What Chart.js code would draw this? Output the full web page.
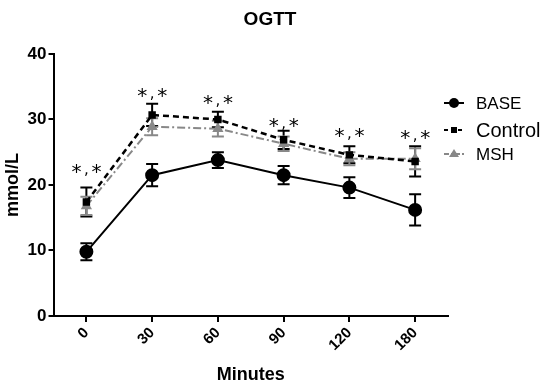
<html>
<head>
<meta charset="UTF-8">
<title>OGTT</title>
<script src="https://cdn.jsdelivr.net/npm/chart.js"></script>
<style>
  html, body { margin: 0; padding: 0; background: #fff; }
  #wrap { width: 550px; height: 388px; }
</style>
</head>
<body>
<div id="wrap"><canvas id="ogttChart" width="550" height="388"></canvas></div>
<script>
    // data
    const chartTitle = 'OGTT';
    const minutes = ['0', '30', '60', '90', '120', '180'];
    const baseMean = [9.8, 21.5, 23.8, 21.5, 19.6, 16.2];
    const baseErr = [1.3, 1.7, 1.2, 1.4, 1.6, 2.4];
    const controlMean = [17.4, 30.7, 30.0, 26.9, 24.6, 23.6];
    const controlErr = [2.2, 1.7, 1.2, 1.4, 1.3, 2.3];
    const mshMean = [16.8, 28.9, 28.6, 26.3, 24.0, 24.0];
    const mshErr = [1.4, 1.3, 1.2, 1.1, 1.0, 1.6];
    const starLevel = [22.4, 34.0, 33.0, 29.5, 28.0, 27.6];

    const errs = [baseErr, controlErr, mshErr];

    // error bars drawn through the y scale
    const errorBars = {
        id: 'errorBars',
        beforeDatasetsDraw(chart) {
            const ctx = chart.ctx;
            const y = chart.scales.y;
            chart.data.datasets.forEach((ds, i) => {
                const meta = chart.getDatasetMeta(i);
                ctx.save();
                ctx.strokeStyle = ds.borderColor;
                ctx.lineWidth = 2;
                meta.data.forEach((pt, j) => {
                    const top = y.getPixelForValue(ds.data[j] + errs[i][j]);
                    const bot = y.getPixelForValue(ds.data[j] - errs[i][j]);
                    ctx.beginPath();
                    ctx.moveTo(pt.x, top); ctx.lineTo(pt.x, bot);
                    ctx.moveTo(pt.x - 6, top); ctx.lineTo(pt.x + 6, top);
                    ctx.moveTo(pt.x - 6, bot); ctx.lineTo(pt.x + 6, bot);
                    ctx.stroke();
                });
                ctx.restore();
            });
        }
    };

    // title, significance marks and legend
    const extras = {
        id: 'extras',
        afterDraw(chart) {
            const ctx = chart.ctx;
            const x = chart.scales.x;
            const y = chart.scales.y;
            ctx.save();
            ctx.fillStyle = '#000';
            ctx.textAlign = 'center';
            ctx.textBaseline = 'middle';
            ctx.font = 'bold 19px "Liberation Sans"';
            ctx.fillText(chartTitle, 270, 20);

            ctx.textBaseline = 'alphabetic';
            starLevel.forEach((v, j) => {
                const px = x.getPixelForValue(j);
                const py = y.getPixelForValue(v);
                ctx.font = '20px "DejaVu Sans"';
                ctx.fillText('*', px - 10, py + 9);
                ctx.fillText('*', px + 10, py + 9);
                ctx.font = '15px "DejaVu Sans"';
                ctx.fillText(',', px, py + 5);
            });

            const lx = chart.chartArea.right - 4;
            const rows = [
                {label: 'BASE', y: 103, size: 17, color: '#000', dash: [], shape: 'circle'},
                {label: 'Control', y: 130, size: 20, color: '#000', dash: [4, 3], shape: 'rect'},
                {label: 'MSH', y: 154, size: 17, color: '#888', dash: [5, 2, 2, 2], shape: 'tri'}
            ];
            ctx.textBaseline = 'middle';
            rows.forEach(r => {
                ctx.strokeStyle = r.color;
                ctx.fillStyle = r.color;
                ctx.lineWidth = 2;
                ctx.setLineDash(r.dash);
                ctx.beginPath();
                ctx.moveTo(lx, r.y); ctx.lineTo(lx + 20, r.y);
                ctx.stroke();
                ctx.setLineDash([]);
                const cx = lx + 10;
                ctx.beginPath();
                if (r.shape === 'circle') ctx.arc(cx, r.y, 5, 0, Math.PI * 2);
                else if (r.shape === 'rect') ctx.rect(cx - 3, r.y - 3, 6, 6);
                else { ctx.moveTo(cx, r.y - 5); ctx.lineTo(cx + 5, r.y + 3); ctx.lineTo(cx - 5, r.y + 3); ctx.closePath(); }
                ctx.fill();
                ctx.fillStyle = '#000';
                ctx.font = r.size + 'px "Liberation Sans"';
                ctx.textAlign = 'left';
                ctx.fillText(r.label, lx + 32, r.y + 1);
            });
            ctx.restore();
        }
    };

    const config = {
        type: 'line',
        data: {
            labels: minutes,
            datasets: [{
                label: 'BASE',
                data: baseMean,
                borderColor: '#000',
                backgroundColor: '#000',
                borderWidth: 2,
                pointStyle: 'circle',
                pointRadius: 6,
                tension: 0
            }, {
                label: 'Control',
                data: controlMean,
                borderColor: '#000',
                backgroundColor: '#000',
                borderWidth: 2.5,
                borderDash: [6, 4],
                pointStyle: 'rect',
                pointRadius: 3.5,
                tension: 0
            }, {
                label: 'MSH',
                data: mshMean,
                borderColor: '#888',
                backgroundColor: '#888',
                borderWidth: 2,
                borderDash: [8, 3, 2, 3],
                pointStyle: 'triangle',
                pointRadius: 4.5,
                tension: 0
            }]
        },
        options: {
            responsive: false,
            animation: false,
            layout: { padding: { top: 54, left: 2, right: 102, bottom: 2 } },
            plugins: {
                legend: { display: false },
                tooltip: { enabled: false },
                title: { display: false }
            },
            scales: {
                x: {
                    offset: true,
                    grid: { display: true, drawOnChartArea: false, offset: false, color: '#000', lineWidth: 2, tickLength: 6 },
                    border: { display: true, color: '#000', width: 2 },
                    ticks: {
                        color: '#000',
                        minRotation: 45, maxRotation: 45,
                        padding: 2,
                        font: { family: 'Liberation Sans', size: 15, weight: 'bold' }
                    },
                    title: {
                        display: true,
                        text: 'Minutes',
                        color: '#000',
                        font: { family: 'Liberation Sans', size: 18, weight: 'bold' },
                        padding: { top: 8, bottom: 0 }
                    }
                },
                y: {
                    min: 0,
                    max: 40,
                    ticks: {
                        stepSize: 10,
                        color: '#000',
                        padding: 2,
                        font: { family: 'Liberation Sans', size: 17, weight: 'bold' }
                    },
                    grid: { display: true, drawOnChartArea: false, color: '#000', lineWidth: 2, tickLength: 5 },
                    border: { display: true, color: '#000', width: 2 },
                    title: {
                        display: true,
                        text: 'mmol/L',
                        color: '#000',
                        font: { family: 'Liberation Sans', size: 18, weight: 'bold' },
                        padding: { top: 0, bottom: 2 }
                    }
                }
            }
        },
        plugins: [errorBars, extras]
    };

    new Chart(document.getElementById('ogttChart').getContext('2d'), config);
</script>
</body>
</html>
